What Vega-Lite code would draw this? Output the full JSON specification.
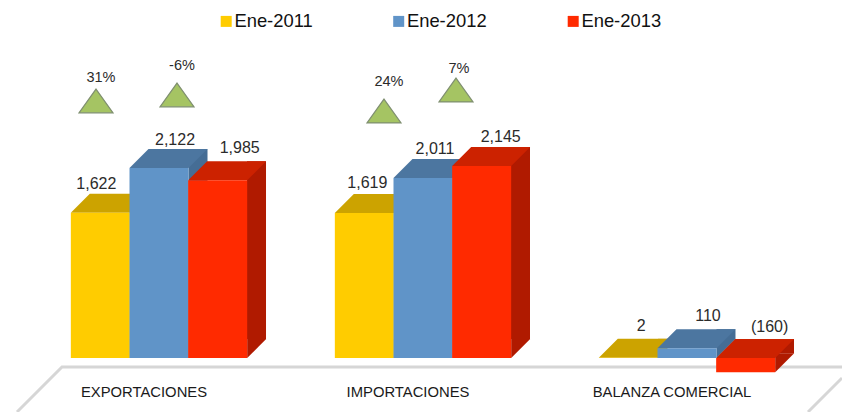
{
"$schema":"https://vega.github.io/schema/vega-lite/v6.json",
"width":792,"height":412,"padding":{"left":27,"right":23,"top":0,"bottom":0},"autosize":"none",
"background":"white",
"config":{"view":{"stroke":null},"font":"Liberation Sans"},
"datasets":{
"barras":[
{"categoria":"EXPORTACIONES","serie":"Ene-2011","valor":1622,"etiqueta":"1,622"},
{"categoria":"EXPORTACIONES","serie":"Ene-2012","valor":2122,"etiqueta":"2,122"},
{"categoria":"EXPORTACIONES","serie":"Ene-2013","valor":1985,"etiqueta":"1,985"},
{"categoria":"IMPORTACIONES","serie":"Ene-2011","valor":1619,"etiqueta":"1,619"},
{"categoria":"IMPORTACIONES","serie":"Ene-2012","valor":2011,"etiqueta":"2,011"},
{"categoria":"IMPORTACIONES","serie":"Ene-2013","valor":2145,"etiqueta":"2,145"},
{"categoria":"BALANZA COMERCIAL","serie":"Ene-2011","valor":2,"etiqueta":"2"},
{"categoria":"BALANZA COMERCIAL","serie":"Ene-2012","valor":110,"etiqueta":"110"},
{"categoria":"BALANZA COMERCIAL","serie":"Ene-2013","valor":-160,"etiqueta":"(160)"}],
"variaciones":[
{"categoria":"EXPORTACIONES","nivel":2872,"texto":"31%"},
{"categoria":"EXPORTACIONES","nivel":2939,"texto":"-6%"},
{"categoria":"IMPORTACIONES","nivel":2760,"texto":"24%"},
{"categoria":"IMPORTACIONES","nivel":2994,"texto":"7%"}],
"piso":[{"categoria":"IMPORTACIONES"}]
},
"encoding":{
"x":{"field":"categoria","type":"nominal","sort":["EXPORTACIONES","IMPORTACIONES","BALANZA COMERCIAL"],
"scale":{"domain":["EXPORTACIONES","IMPORTACIONES","BALANZA COMERCIAL"],"paddingInner":0.3333,"paddingOuter":0.1667},
"axis":{"title":null,"domain":false,"ticks":false,"labelAngle":0,"labelFontSize":14.8,"labelColor":"#1a1a1a","labelOffset":-15,"labelPadding":0,"offset":-28,"labelBaseline":"top","zindex":1}},
"y":{"type":"quantitative","scale":{"domain":[-603.4,4000],"nice":false,"zero":false},"axis":null}
},
"layer":[
{"data":{"name":"piso"},
 "mark":{"type":"point","filled":false,"opacity":1,"stroke":"#d6d6d6","strokeWidth":3,"size":640000,
 "shape":"M-1.015,.1125 L-.9025,0 L1.0475,0 M1.0475,.0275 L.9625,.1125"},
 "encoding":{"y":{"datum":-100}}},

{"data":{"name":"barras"},
 "mark":{"type":"bar","width":19,"yOffset":-19,
 "xOffset":{"expr":"{'Ene-2011':-19.5,'Ene-2012':39,'Ene-2013':97.5}[datum.serie]"}},
 "encoding":{
 "y":{"field":"valor","type":"quantitative","stack":null},
 "y2":{"datum":212.3},
 "color":{"field":"serie","type":"nominal","legend":null,"scale":{"domain":["Ene-2011","Ene-2012","Ene-2013"],"range":["#b38f00","#456d95","#b01a00"]}}}},
{"data":{"name":"barras"},
 "transform":[{"filter":"datum.valor>=0"}],
 "mark":{"type":"point","filled":true,"opacity":1,"size":1521,"shape":"M1.5128,0 L2.4872,-.9744 L1.5128,-.9744 Z","strokeWidth":0},
 "encoding":{"xOffset":{"field":"serie","type":"nominal","scale":{"paddingInner":0,"paddingOuter":0}},
 "y":{"datum":0},
 "color":{"field":"serie","type":"nominal","legend":null,"scale":{"domain":["Ene-2011","Ene-2012","Ene-2013"],"range":["#b38f00","#456d95","#b01a00"]}}}},
{"data":{"name":"barras"},
 "transform":[{"filter":"datum.valor<0"}],
 "mark":{"type":"point","filled":true,"opacity":1,"size":1521,"shape":"M1.5128,0 L2.4872,-.9744 L1.5128,-.9744 Z","strokeWidth":0},
 "encoding":{"xOffset":{"field":"serie","type":"nominal","scale":{"paddingInner":0,"paddingOuter":0}},
 "y":{"field":"valor","type":"quantitative"},
 "color":{"field":"serie","type":"nominal","legend":null,"scale":{"domain":["Ene-2011","Ene-2012","Ene-2013"],"range":["#b38f00","#456d95","#b01a00"]}}}},

{"data":{"name":"barras"},
 "transform":[{"filter":"datum.valor>=0"}],
 "mark":{"type":"point","filled":true,"opacity":1,"size":6084,"strokeWidth":0,"shape":"M-.7564,0 L.7564,0 L1.2436,-.4872 L-.2692,-.4872 Z"},
 "encoding":{"xOffset":{"field":"serie","type":"nominal","scale":{"paddingInner":0,"paddingOuter":0}},
 "y":{"field":"valor","type":"quantitative"},
 "color":{"field":"serie","type":"nominal","legend":null,"scale":{"domain":["Ene-2011","Ene-2012","Ene-2013"],"range":["#cca300","#4c76a0","#cc2200"]}}}},
{"data":{"name":"barras"},
 "transform":[{"filter":"datum.valor<0"}],
 "mark":{"type":"point","filled":true,"opacity":1,"size":6084,"strokeWidth":0,"shape":"M-.7564,0 L.7564,0 L1.2436,-.4872 L-.2692,-.4872 Z"},
 "encoding":{"xOffset":{"field":"serie","type":"nominal","scale":{"paddingInner":0,"paddingOuter":0}},
 "y":{"datum":0},
 "color":{"field":"serie","type":"nominal","legend":null,"scale":{"domain":["Ene-2011","Ene-2012","Ene-2013"],"range":["#cca300","#4c76a0","#cc2200"]}}}},

{"data":{"name":"barras"},
 "mark":{"type":"bar","width":59},
 "encoding":{"xOffset":{"field":"serie","type":"nominal","scale":{"paddingInner":0,"paddingOuter":0}},
 "y":{"field":"valor","type":"quantitative","stack":null},
 "color":{"field":"serie","type":"nominal","scale":{"domain":["Ene-2011","Ene-2012","Ene-2013"],"range":["#ffcc00","#6094c8","#ff2a00"]},
 "legend":{"title":null,"orient":"none","legendX":190,"legendY":12,"direction":"horizontal","columns":3,"symbolType":"square","symbolSize":121,"symbolStrokeWidth":0,"labelFontSize":18.4,"labelColor":"#111111","labelOffset":-1,"columnPadding":76.5,"padding":0,"labelLimit":200}}}},

{"data":{"name":"barras"},
 "mark":{"type":"text","fontSize":16,"color":"#2b2b2b","baseline":"middle",
 "dx":{"expr":"{'1,622':-4,'2,122':16,'1,985':22,'1,619':3,'2,011':12,'2,145':19,'2':13,'110':21,'(160)':24}[datum.etiqueta]"},
 "dy":{"expr":"{'1,622':-29,'2,122':-28,'1,985':-32,'1,619':-30,'2,011':-29,'2,145':-29,'2':-32,'110':-32,'(160)':-45}[datum.etiqueta]"}},
 "encoding":{"xOffset":{"field":"serie","type":"nominal","scale":{"paddingInner":0,"paddingOuter":0}},
 "y":{"field":"valor","type":"quantitative"},
 "text":{"field":"etiqueta","type":"nominal"}}},

{"data":{"name":"variaciones"},
 "mark":{"type":"point","filled":true,"opacity":1,"size":1156,"color":"#a5c463","stroke":"#7f8f70","strokeWidth":1.2,"shape":"M0,-.7 L1,.7 L-1,.7 Z",
 "xOffset":{"expr":"{'31%':-63,'-6%':18,'24%':-39,'7%':33}[datum.texto]"}},
 "encoding":{
 "y":{"field":"nivel","type":"quantitative"}}},
{"data":{"name":"variaciones"},
 "mark":{"type":"text","fontSize":14.5,"color":"#2b2b2b","baseline":"middle",
 "dx":{"expr":"{'31%':-58,'-6%':23,'24%':-34,'7%':36}[datum.texto]"},
 "dy":{"expr":"{'31%':-23,'-6%':-29,'24%':-29,'7%':-21}[datum.texto]"}},
 "encoding":{
 "y":{"field":"nivel","type":"quantitative"},
 "text":{"field":"texto","type":"nominal"}}}
],
"resolve":{"scale":{"color":"independent"}}
}
